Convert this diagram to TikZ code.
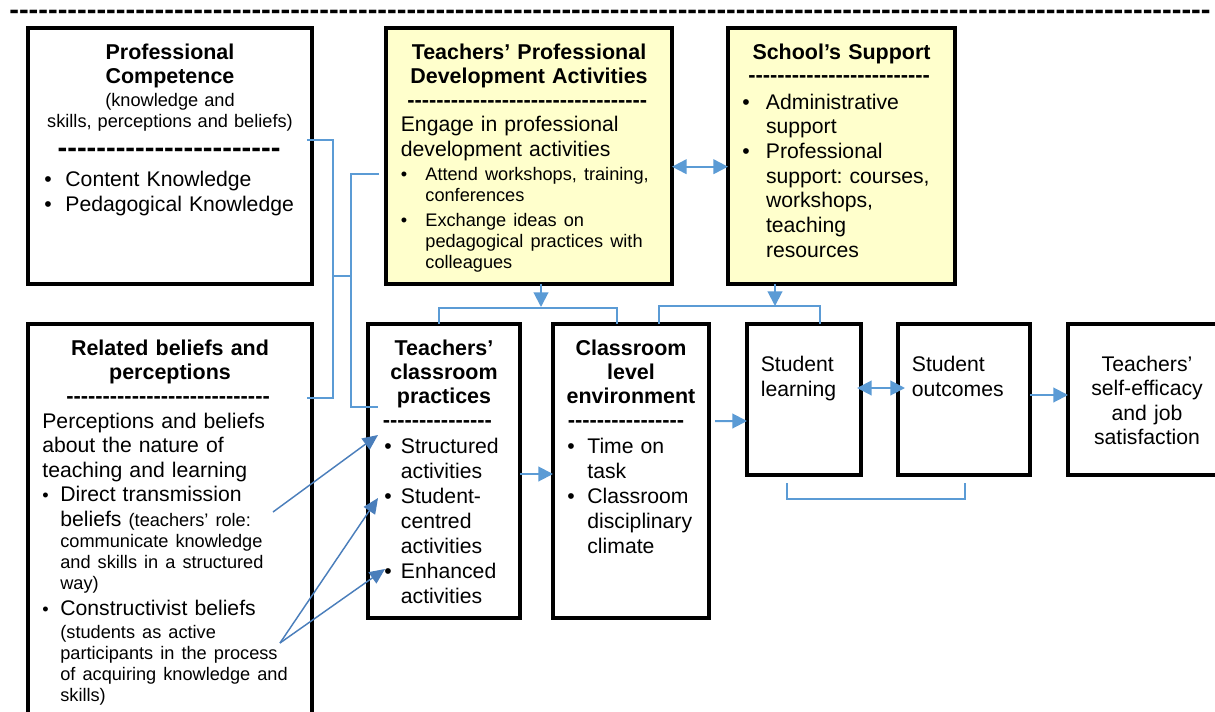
\documentclass[tikz,border=0pt]{standalone}
\usepackage{fontspec}
\setmainfont{Liberation Sans}
\newfontfamily\dashfont{Liberation Sans}
\usetikzlibrary{arrows.meta,fit,calc}

\definecolor{linkblue}{HTML}{5B9BD5}
\definecolor{darkblue}{HTML}{4A7EBB}
\definecolor{noteyellow}{HTML}{FFFFCC}

\newcommand\fsz[2]{\fontsize{#1}{#2}\selectfont}
% row of hyphens: size, count
\newcommand\dashrun[2]{{\dashfont\bfseries\fontsize{#1}{#1}\selectfont\foreach\i in {1,...,#2}{-}}}
% bullet with hanging indent
\newcommand\bitem[1]{\noindent\hangindent=#1\hangafter=1\makebox[#1][l]{\textbullet}\ignorespaces}
\frenchspacing

\begin{document}
\begin{tikzpicture}[x=0.55pt, y=-0.55pt,
  frame/.style={draw, line width=2pt, inner sep=0pt, outer sep=0pt},
  yframe/.style={frame, fill=noteyellow},
  headtext/.style={inner sep=0pt, anchor=base, align=center, text width=170pt, font=\frenchspacing\bfseries\fsz{11.8}{13.3}},
  bodytext/.style={inner sep=0pt, anchor=base west, align=left, text width=220pt, font=\frenchspacing\fsz{11.65}{13.75}},
  dashrow/.style={inner sep=0pt, anchor=base west},
  link/.style={draw=linkblue, line width=1.1pt},
  linkarrow/.style={link, -{Triangle[length=8pt, width=8pt]}},
  twoway/.style={link, {Triangle[length=8pt, width=8pt]}-{Triangle[length=8pt, width=8pt]}},
  beliefarrow/.style={draw=darkblue, line width=0.8pt, -{Triangle[length=8.5pt, width=7.5pt]}}]
\useasboundingbox (0,0) rectangle (1215,712);
\fill[white] (0,0) rectangle (1215,712);

\node[dashrow] (topdash) at (9,19.6) {\dashrun{16}{124}};

% upper row
\node[frame, fit={(28,28) (312,284)}] (pc) {};
\node[headtext] (pctitle) at (170,59) {Professional\\Competence};
\node[headtext, font=\fsz{10}{11.55}] (pcnote) at (170,106) {(knowledge and\\skills, perceptions and beliefs)};
\node[dashrow] (pcsep) at (57.3,157.6) {\dashrun{16}{23}};
\node[bodytext] (pclist) at (44,186.5) {\bitem{11.6pt}Content Knowledge\par\bitem{11.6pt}Pedagogical Knowledge\par};

\node[yframe, fit={(386,28) (672,284)}] (tpd) {};
\node[headtext] (tpdtitle) at (529,59) {Teachers’ Professional\\Development Activities};
\node[dashrow] (tpdsep) at (407,107.7) {\dashrun{12}{33}};
\node[bodytext] (tpdtext) at (400.5,131.7) {Engage in professional\newline development activities\par
  \fsz{10}{11.55}\vspace{1.3pt}\bitem{13.5pt}Attend workshops, training,\newline conferences\par
  \vspace{2.5pt}\bitem{13.5pt}Exchange ideas on\newline pedagogical practices with\newline colleagues\par};

\node[yframe, fit={(728,28) (955,284)}] (ss) {};
\node[headtext] (sstitle) at (841.5,59.3) {School’s Support};
\node[dashrow] (sssep) at (748,82.7) {\dashrun{12}{25}};
\node[bodytext, font=\frenchspacing\fsz{11.65}{13.6}] (sstext) at (742,109) {\bitem{13pt}Administrative\newline support\par
  \bitem{13pt}Professional\newline support: courses,\newline workshops,\newline teaching\newline resources\par};

% lower row
\node[frame, fit={(28,324) (312,740)}] (rb) {};
\node[headtext] (rbtitle) at (170,355) {Related beliefs and\\perceptions};
\node[dashrow] (rbsep) at (66,403.7) {\dashrun{12}{28}};
\node[bodytext, font=\frenchspacing\fsz{11.65}{13.45}] (rbtext) at (42,428.3) {Perceptions and beliefs\newline about the nature of\newline teaching and learning\par
  \fsz{10}{11.5}\vspace{1.9pt}\bitem{9.9pt}{\fsz{11.65}{13.75}Direct transmission\vadjust{\vskip2.2pt}\newline beliefs} (teachers’ role:\newline communicate knowledge\newline and skills in a structured\newline way)\par
  \vspace{2.8pt}\bitem{9.9pt}{\fsz{11.65}{13.75}Constructivist beliefs}\vadjust{\vskip1.3pt}\newline (students as active\newline participants in the process\newline of acquiring knowledge and\newline skills)\par};

\node[frame, fit={(368,324) (520,618)}] (tcp) {};
\node[headtext] (tcptitle) at (444,355) {Teachers’\\classroom\\practices};
\node[dashrow] (tcpsep) at (382.5,427.7) {\dashrun{12}{15}};
\node[bodytext] (tcptext) at (384,453.3) {\bitem{9.1pt}Structured\newline activities\par
  \bitem{9.1pt}Student-\newline centred\newline activities\par
  \bitem{9.1pt}Enhanced\newline activities\par};

\node[frame, fit={(553,324) (709,618)}] (cle) {};
\node[headtext] (cletitle) at (631,355) {Classroom\\level\\environment};
\node[dashrow] (clesep) at (567.5,427.7) {\dashrun{12}{16}};
\node[bodytext] (cletext) at (567,453.3) {\bitem{11pt}Time on\newline task\par
  \bitem{11pt}Classroom\newline disciplinary\newline climate\par};

\node[frame, fit={(747,324) (861,475)}] (sl) {};
\node[bodytext, font=\fsz{11.65}{13.4}] (sltext) at (760.5,371.7) {Student\newline learning\par};
\node[frame, fit={(898,324) (1030,475)}] (so) {};
\node[bodytext, font=\fsz{11.65}{13.4}] (sotext) at (911.5,371.7) {Student\newline outcomes\par};
\node[frame, fit={(1068,324) (1226,475)}] (tse) {};
\node[headtext, font=\fsz{11.65}{13.3}] (tsetext) at (1147,371.7) {Teachers’\\self-efficacy\\and job\\satisfaction};

% connectors
\coordinate (j1) at (333,276);
\coordinate (j2) at (351,276);
\draw[link] ($(pc.north east)+(-5,112)$) -| (j1) |- ($(rb.north east)+(-5,74)$);
\draw[link] ($(tpd.north west)+(-7,146)$) -| (j2) |- ($(tcp.north west)+(10,83)$);
\draw[link] (j1) -- (j2);

\draw[twoway] ($(tpd.north east)+(0,138.7)$) -- ($(ss.north west)+(0,138.7)$);
\draw[linkarrow] ($(tpd.south west)+(155,0)$) -- ++(0,23);
\draw[link] ($(tcp.north west)+(71,0)$) -- ++(0,-16) -| ($(cle.north west)+(64,0)$);
\draw[linkarrow] ($(ss.south west)+(47,0)$) -- ++(0,22);
\draw[link] ($(cle.north west)+(106,0)$) -- ++(0,-18) -| ($(sl.north west)+(73,0)$);

\draw[linkarrow] ($(tcp.south east)+(0,-144)$) -- ($(cle.south west)+(0,-144)$);
\draw[linkarrow] ($(cle.north east)+(6,97)$) -- ($(sl.north west)+(0,97)$);
\draw[twoway] ($(sl.north east)+(-4,64)$) -- ($(so.north west)+(7,64)$);
\draw[linkarrow] ($(so.north east)+(0,71)$) -- ($(tse.north west)+(0,71)$);
\draw[link] ($(sl.south west)+(40,8)$) -- ++(0,16) -| ($(so.south west)+(67,8)$);

\coordinate (dtb) at (273,512);
\coordinate (cvb) at (280,643);
\draw[beliefarrow] (dtb) -- ($(tcp.north west)+(10,111)$);
\draw[beliefarrow] (cvb) -- ($(tcp.north west)+(10,174)$);
\draw[beliefarrow] (cvb) -- ($(tcp.north west)+(17,245)$);
\end{tikzpicture}
\end{document}
